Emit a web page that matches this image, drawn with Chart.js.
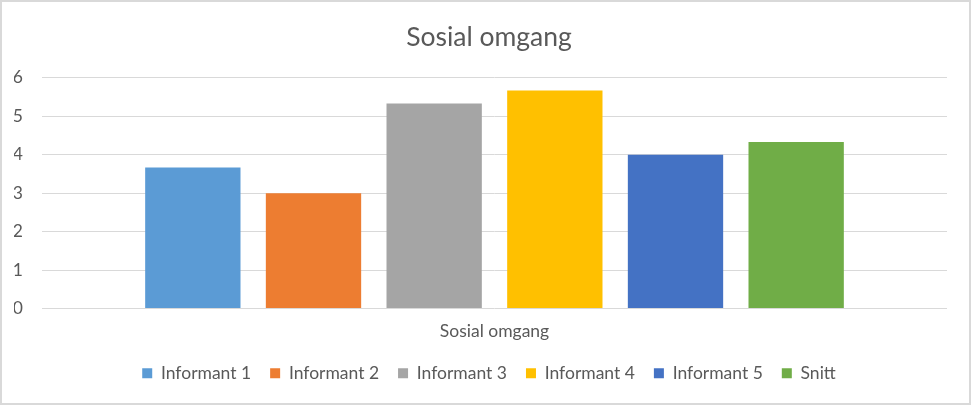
<!DOCTYPE html>
<html>
<head>
<meta charset="utf-8">
<script src="https://cdn.jsdelivr.net/npm/chart.js@4"></script>
<style>
  html, body { margin: 0; padding: 0; background: #fff; }
  #wrap {
    width: 971px; height: 405px; box-sizing: border-box;
    border: 2px solid #d9d9d9; background: #fff;
  }
  canvas { display: block; }
</style>
</head>
<body>
<div id="wrap"><canvas id="chart" width="967" height="401"></canvas></div>
<script>
// Data
const categories = ['Sosial omgang'];
const seriesNames = ['Informant 1', 'Informant 2', 'Informant 3', 'Informant 4', 'Informant 5', 'Snitt'];
const seriesValues = [3.67, 3, 5.33, 5.67, 4, 4.33];
const seriesColors = ['#5b9bd5', '#ed7d31', '#a5a5a5', '#ffc000', '#4472c4', '#70ad47'];
const yTicks = [0, 1, 2, 3, 4, 5, 6];

const textColor = '#595959';
const fontFamily = 'Lato, "Open Sans", sans-serif';

const datasets = seriesNames.map((name, i) => ({
    label: name,
    data: [seriesValues[i]],
    backgroundColor: seriesColors[i],
    categoryPercentage: 0.8,
    barPercentage: 0.79
}));

new Chart(document.getElementById('chart').getContext('2d'), {
    type: 'bar',
    data: { labels: categories, datasets: datasets },
    options: {
        responsive: false,
        animation: false,
        layout: { padding: { left: 12, right: 5, top: 0, bottom: 11 } },
        plugins: {
            title: {
                display: true,
                text: 'Sosial omgang',
                color: textColor,
                font: { family: fontFamily, size: 26.5, weight: 'normal' },
                padding: { top: 20, bottom: 24 }
            },
            legend: {
                position: 'bottom',
                labels: {
                    color: textColor,
                    font: { family: fontFamily, size: 17.5 },
                    boxWidth: 10,
                    boxHeight: 10,
                    padding: 19
                }
            },
            tooltip: { enabled: false }
        },
        scales: {
            x: {
                grid: { display: false },
                border: { display: false },
                ticks: {
                    color: textColor,
                    font: { family: fontFamily, size: 17.5 },
                    padding: 4
                }
            },
            y: {
                min: 0,
                max: 6,
                afterBuildTicks: axis => { axis.ticks = yTicks.map(v => ({ value: v })); },
                afterFit: axis => { axis.width = 28; },
                grid: { color: '#d9d9d9', drawTicks: false },
                border: { display: false },
                ticks: {
                    color: textColor,
                    font: { family: fontFamily, size: 17.5 },
                    padding: 19
                }
            },
            // empty spacer on the right so the plot ends where the original does
            yRight: {
                position: 'right',
                afterFit: axis => { axis.width = 17; },
                grid: { display: false },
                border: { display: false },
                ticks: { display: false }
            }
        }
    }
});
</script>
</body>
</html>
